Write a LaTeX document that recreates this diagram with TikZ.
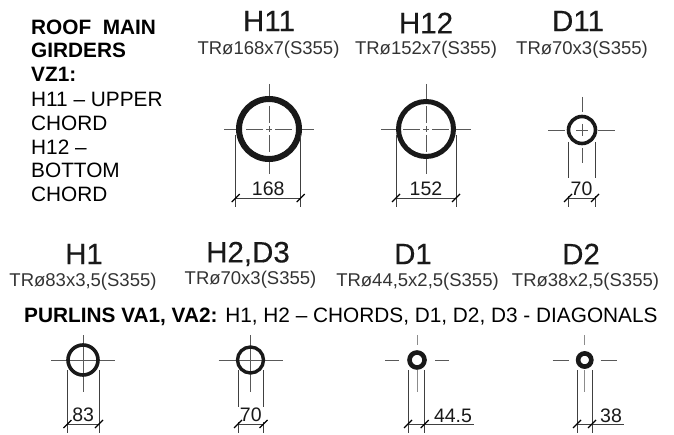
\documentclass[tikz,border=0pt]{standalone}
\usepackage{fontspec}
\setmainfont{Liberation Sans}
\usepackage{tikz}
\begin{document}
\begin{tikzpicture}[x=1pt,y=-1pt,
      heading/.style = {inner sep=0pt, text=black!90, font=\fontsize{29.5}{29.5}\selectfont\addfontfeature{FakeBold=0.3}},
      profile/.style = {inner sep=0pt, text=black!80, font=\fontsize{18.5}{18.5}\selectfont},
      dimtext/.style = {inner sep=0pt, text=black!90, font=\fontsize{19.5}{19.5}\selectfont},
      note/.style = {inner sep=0pt, anchor=base west, font=\fontsize{20.8}{20.8}\selectfont},
      tube/.style = {circle, draw=black!90, inner sep=0pt},
      axisline/.style = {draw=black!65, line width=.9pt},
      dimline/.style = {draw=black!75, line width=.8pt},
      tickmark/.style = {draw=black, line width=1.2pt}]
    \useasboundingbox (0,0) rectangle (674,435);
    % side note
    \node [note] (n1) at (31,35) {\textbf{ROOF\ \ MAIN}};
    \node [note] (n2) at (31,58) {\textbf{GIRDERS}};
    \node [note] (n3) at (31,82) {\textbf{VZ1:}};
    \node [note] (n4) at (31,107) {H11 – UPPER};
    \node [note] (n5) at (31,131) {CHORD};
    \node [note] (n6) at (31,155) {H12 –};
    \node [note] (n7) at (31,178) {BOTTOM};
    \node [note] (n8) at (31,202) {CHORD};
    \node [note] (purlins) at (24,323) {\textbf{PURLINS VA1, VA2:} H1, H2 – CHORDS, D1, D2, D3 - DIAGONALS};
    % titles
    \foreach \name/\x/\y/\title/\xs/\ys/\spec in {
        a/269/21/H11/268.5/50/{TRø168x7(S355)},
        b/426/23/H12/426/50/{TRø152x7(S355)},
        c/578/21/D11/582/50/{TRø70x3(S355)},
        d/84/254/H1/83/282/{TRø83x3,5(S355)},
        e/248/254/{H2,D3}/250.5/280/{TRø70x3(S355)},
        f/413/254/D1/417.5/282/{TRø44,5x2,5(S355)},
        g/581/254/D2/585.5/282/{TRø38x2,5(S355)}} {
      \node [heading] (title\name) at (\x,\y) {\title};
      \node [profile] (spec\name) at (\xs,\ys) {\spec};
    }
    % broken axes of the large sections
    \foreach \x/\y in {269/129, 426/129} {
      \foreach \from/\to in {-45/-30, -23/-6, -3/3, 6/23, 30/45} {
        \draw [axisline] (\x+\from,\y) -- (\x+\to,\y);
        \draw [axisline] (\x,\y+\from) -- (\x,\y+\to);
      }
    }
    \draw [axisline] (548,130) -- (565,130) (598,130) -- (615,130)
        (582,97) -- (582,112) (582,148) -- (582,163)
        (576,130) -- (588,130) (582,124) -- (582,136);
    \foreach \x/\y in {83/360, 250.5/360} {
      \draw [axisline] (\x-32,\y) -- (\x+32,\y);
      \draw [axisline] (\x,\y-25) -- (\x,\y+32);
    }
    % sections with the value between the lines
    \foreach \name/\x/\y/\dia/\wall/\xl/\xr/\ya/\yb/\dimy/\dimb/\val in {
        a/269/129/60/6/235.7/300.7/135/198/198/207/168,
        b/426/129/55/5/396/456/135/198/198/207/152,
        c/582/130/27/3.6/568/595/142/178/198/207/70,
        d/83/360/30/3.6/67.5/99/370/424/424/433/83,
        e/250.5/360/26/3.4/238/263.5/370/407/424/433/70} {
      \node [tube, minimum size=\dia pt, line width=\wall pt] (tube\name) at (\x,\y) {};
      \coordinate (dl\name) at (\xl,\dimy);
      \coordinate (dr\name) at (\xr,\dimy);
      \draw [dimline] (\xl,\ya) -- (\xl,\yb) (\xl,\dimy-2) -- (\xl,\dimb);
      \draw [dimline] (\xr,\ya) -- (\xr,\yb) (\xr,\dimy-2) -- (\xr,\dimb);
      \draw [dimline] (dl\name) -- (dr\name);
      \draw [tickmark] (\xl-4,\dimy+4) -- (\xl+4,\dimy-4);
      \draw [tickmark] (\xr-4,\dimy+4) -- (\xr+4,\dimy-4);
      \node [dimtext] (val\name) at ({(\xl+\xr)/2},\dimy-9) {\val};
    }
    % small sections with the value beside them
    \foreach \name/\x/\y/\dia/\wall/\gap/\xl/\xr/\xe/\val/\xv in {
        f/417/360/15/4.6/18/408/424.7/474/44.5/453,
        g/584.7/360/13.2/4.6/16/577/592/624/38/611} {
      \node [tube, minimum size=\dia pt, line width=\wall pt] (tube\name) at (\x,\y) {};
      \draw [axisline] (\x-32,\y) -- (\x-\gap,\y) (\x+\gap,\y) -- (\x+32,\y);
      \draw [axisline, black!45] (\x,\y-25) -- (\x,\y-15) (\x,\y+10) -- (\x,\y+32);
      \coordinate (dl\name) at (\xl,424);
      \coordinate (dr\name) at (\xe,424);
      \draw [dimline] (\xl,\y+10) -- (\xl,433);
      \draw [dimline] (\xr,\y+10) -- (\xr,433);
      \draw [dimline] (dl\name) -- (dr\name);
      \draw [tickmark] (\xl-4,428) -- (\xl+4,420);
      \draw [tickmark] (\xr-4,428) -- (\xr+4,420);
      \node [dimtext] (val\name) at (\xv,415.5) {\val};
    }
\end{tikzpicture}
\end{document}
